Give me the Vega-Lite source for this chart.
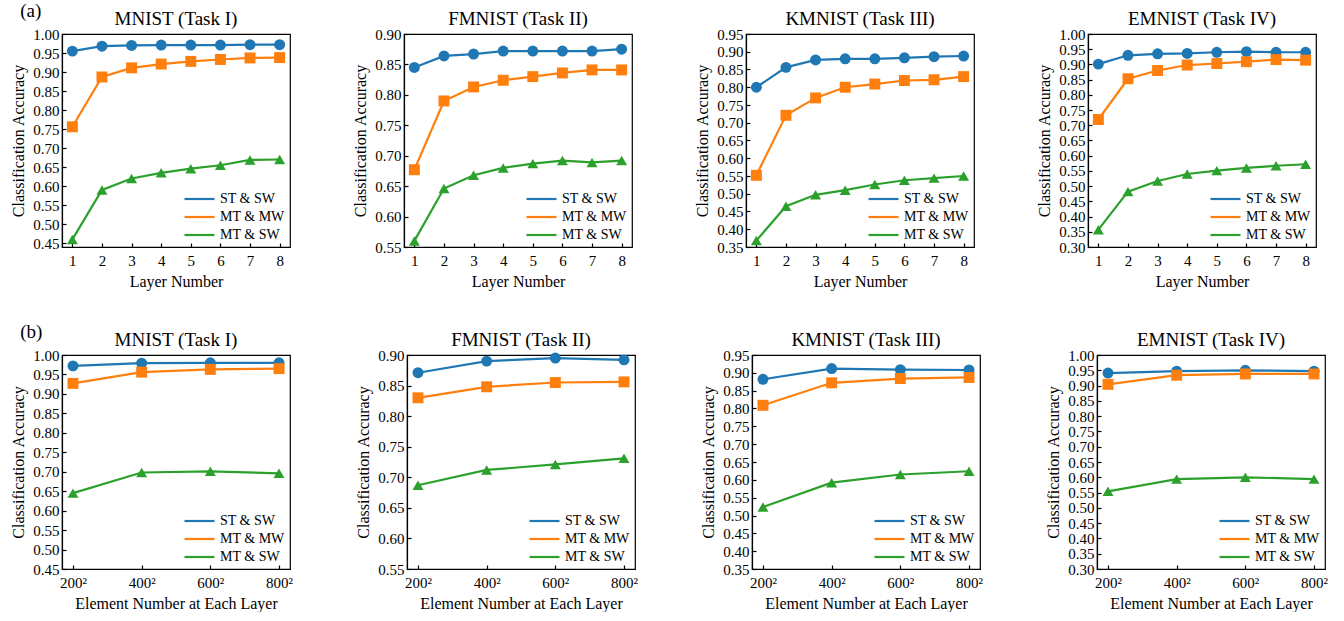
{
  "$schema": "https://vega.github.io/schema/vega-lite/v6.json",
  "padding": {"left": 10, "top": 2, "right": 0, "bottom": 0},
  "config": {
    "font": "Liberation Serif",
    "view": {"stroke": "black", "strokeWidth": 1.2},
    "axis": {
      "domainColor": "black", "domainWidth": 1.2, "tickColor": "black", "tickWidth": 1.2,
      "labelColor": "black", "titleColor": "black",
      "labelFont": "Liberation Serif", "titleFont": "Liberation Serif",
      "labelFontSize": 15, "titleFontSize": 16, "titleFontWeight": "normal",
      "grid": false, "tickSize": -4, "labelPadding": 7, "labelFlush": false, "labelOverlap": false
    },
    "axisX": {"titlePadding": 5, "labelPadding": 10},
    "axisY": {"titlePadding": 6},
    "title": {"font": "Liberation Serif", "fontSize": 19, "fontWeight": "normal", "color": "black", "offset": -2},
    "legend": {
      "orient": "bottom-right", "offset": 5, "padding": 0,
      "labelFont": "Liberation Serif", "labelFontSize": 14, "labelColor": "black",
      "symbolType": "M-1,0H3", "symbolSize": 225, "symbolStrokeWidth": 2.2, "labelOffset": 19, "rowPadding": 2
    }
  },
  "datasets": {
    "acc": [
      {"group": "layer", "task": "MNIST", "method": "ST & SW", "x": 1, "accuracy": 0.955},
      {"group": "layer", "task": "MNIST", "method": "ST & SW", "x": 2, "accuracy": 0.968},
      {"group": "layer", "task": "MNIST", "method": "ST & SW", "x": 3, "accuracy": 0.970},
      {"group": "layer", "task": "MNIST", "method": "ST & SW", "x": 4, "accuracy": 0.971},
      {"group": "layer", "task": "MNIST", "method": "ST & SW", "x": 5, "accuracy": 0.971},
      {"group": "layer", "task": "MNIST", "method": "ST & SW", "x": 6, "accuracy": 0.971},
      {"group": "layer", "task": "MNIST", "method": "ST & SW", "x": 7, "accuracy": 0.972},
      {"group": "layer", "task": "MNIST", "method": "ST & SW", "x": 8, "accuracy": 0.972},
      {"group": "layer", "task": "MNIST", "method": "MT & MW", "x": 1, "accuracy": 0.756},
      {"group": "layer", "task": "MNIST", "method": "MT & MW", "x": 2, "accuracy": 0.887},
      {"group": "layer", "task": "MNIST", "method": "MT & MW", "x": 3, "accuracy": 0.911},
      {"group": "layer", "task": "MNIST", "method": "MT & MW", "x": 4, "accuracy": 0.921},
      {"group": "layer", "task": "MNIST", "method": "MT & MW", "x": 5, "accuracy": 0.928},
      {"group": "layer", "task": "MNIST", "method": "MT & MW", "x": 6, "accuracy": 0.933},
      {"group": "layer", "task": "MNIST", "method": "MT & MW", "x": 7, "accuracy": 0.937},
      {"group": "layer", "task": "MNIST", "method": "MT & MW", "x": 8, "accuracy": 0.938},
      {"group": "layer", "task": "MNIST", "method": "MT & SW", "x": 1, "accuracy": 0.460},
      {"group": "layer", "task": "MNIST", "method": "MT & SW", "x": 2, "accuracy": 0.590},
      {"group": "layer", "task": "MNIST", "method": "MT & SW", "x": 3, "accuracy": 0.620},
      {"group": "layer", "task": "MNIST", "method": "MT & SW", "x": 4, "accuracy": 0.635},
      {"group": "layer", "task": "MNIST", "method": "MT & SW", "x": 5, "accuracy": 0.646},
      {"group": "layer", "task": "MNIST", "method": "MT & SW", "x": 6, "accuracy": 0.655},
      {"group": "layer", "task": "MNIST", "method": "MT & SW", "x": 7, "accuracy": 0.669},
      {"group": "layer", "task": "MNIST", "method": "MT & SW", "x": 8, "accuracy": 0.670},

      {"group": "layer", "task": "FMNIST", "method": "ST & SW", "x": 1, "accuracy": 0.845},
      {"group": "layer", "task": "FMNIST", "method": "ST & SW", "x": 2, "accuracy": 0.864},
      {"group": "layer", "task": "FMNIST", "method": "ST & SW", "x": 3, "accuracy": 0.867},
      {"group": "layer", "task": "FMNIST", "method": "ST & SW", "x": 4, "accuracy": 0.872},
      {"group": "layer", "task": "FMNIST", "method": "ST & SW", "x": 5, "accuracy": 0.872},
      {"group": "layer", "task": "FMNIST", "method": "ST & SW", "x": 6, "accuracy": 0.872},
      {"group": "layer", "task": "FMNIST", "method": "ST & SW", "x": 7, "accuracy": 0.872},
      {"group": "layer", "task": "FMNIST", "method": "ST & SW", "x": 8, "accuracy": 0.875},
      {"group": "layer", "task": "FMNIST", "method": "MT & MW", "x": 1, "accuracy": 0.677},
      {"group": "layer", "task": "FMNIST", "method": "MT & MW", "x": 2, "accuracy": 0.790},
      {"group": "layer", "task": "FMNIST", "method": "MT & MW", "x": 3, "accuracy": 0.813},
      {"group": "layer", "task": "FMNIST", "method": "MT & MW", "x": 4, "accuracy": 0.824},
      {"group": "layer", "task": "FMNIST", "method": "MT & MW", "x": 5, "accuracy": 0.830},
      {"group": "layer", "task": "FMNIST", "method": "MT & MW", "x": 6, "accuracy": 0.836},
      {"group": "layer", "task": "FMNIST", "method": "MT & MW", "x": 7, "accuracy": 0.841},
      {"group": "layer", "task": "FMNIST", "method": "MT & MW", "x": 8, "accuracy": 0.841},
      {"group": "layer", "task": "FMNIST", "method": "MT & SW", "x": 1, "accuracy": 0.560},
      {"group": "layer", "task": "FMNIST", "method": "MT & SW", "x": 2, "accuracy": 0.646},
      {"group": "layer", "task": "FMNIST", "method": "MT & SW", "x": 3, "accuracy": 0.668},
      {"group": "layer", "task": "FMNIST", "method": "MT & SW", "x": 4, "accuracy": 0.680},
      {"group": "layer", "task": "FMNIST", "method": "MT & SW", "x": 5, "accuracy": 0.687},
      {"group": "layer", "task": "FMNIST", "method": "MT & SW", "x": 6, "accuracy": 0.692},
      {"group": "layer", "task": "FMNIST", "method": "MT & SW", "x": 7, "accuracy": 0.689},
      {"group": "layer", "task": "FMNIST", "method": "MT & SW", "x": 8, "accuracy": 0.692},

      {"group": "layer", "task": "KMNIST", "method": "ST & SW", "x": 1, "accuracy": 0.800},
      {"group": "layer", "task": "KMNIST", "method": "ST & SW", "x": 2, "accuracy": 0.856},
      {"group": "layer", "task": "KMNIST", "method": "ST & SW", "x": 3, "accuracy": 0.877},
      {"group": "layer", "task": "KMNIST", "method": "ST & SW", "x": 4, "accuracy": 0.880},
      {"group": "layer", "task": "KMNIST", "method": "ST & SW", "x": 5, "accuracy": 0.880},
      {"group": "layer", "task": "KMNIST", "method": "ST & SW", "x": 6, "accuracy": 0.883},
      {"group": "layer", "task": "KMNIST", "method": "ST & SW", "x": 7, "accuracy": 0.886},
      {"group": "layer", "task": "KMNIST", "method": "ST & SW", "x": 8, "accuracy": 0.888},
      {"group": "layer", "task": "KMNIST", "method": "MT & MW", "x": 1, "accuracy": 0.552},
      {"group": "layer", "task": "KMNIST", "method": "MT & MW", "x": 2, "accuracy": 0.721},
      {"group": "layer", "task": "KMNIST", "method": "MT & MW", "x": 3, "accuracy": 0.770},
      {"group": "layer", "task": "KMNIST", "method": "MT & MW", "x": 4, "accuracy": 0.800},
      {"group": "layer", "task": "KMNIST", "method": "MT & MW", "x": 5, "accuracy": 0.809},
      {"group": "layer", "task": "KMNIST", "method": "MT & MW", "x": 6, "accuracy": 0.819},
      {"group": "layer", "task": "KMNIST", "method": "MT & MW", "x": 7, "accuracy": 0.821},
      {"group": "layer", "task": "KMNIST", "method": "MT & MW", "x": 8, "accuracy": 0.830},
      {"group": "layer", "task": "KMNIST", "method": "MT & SW", "x": 1, "accuracy": 0.368},
      {"group": "layer", "task": "KMNIST", "method": "MT & SW", "x": 2, "accuracy": 0.465},
      {"group": "layer", "task": "KMNIST", "method": "MT & SW", "x": 3, "accuracy": 0.497},
      {"group": "layer", "task": "KMNIST", "method": "MT & SW", "x": 4, "accuracy": 0.510},
      {"group": "layer", "task": "KMNIST", "method": "MT & SW", "x": 5, "accuracy": 0.526},
      {"group": "layer", "task": "KMNIST", "method": "MT & SW", "x": 6, "accuracy": 0.538},
      {"group": "layer", "task": "KMNIST", "method": "MT & SW", "x": 7, "accuracy": 0.544},
      {"group": "layer", "task": "KMNIST", "method": "MT & SW", "x": 8, "accuracy": 0.550},

      {"group": "layer", "task": "EMNIST", "method": "ST & SW", "x": 1, "accuracy": 0.901},
      {"group": "layer", "task": "EMNIST", "method": "ST & SW", "x": 2, "accuracy": 0.930},
      {"group": "layer", "task": "EMNIST", "method": "ST & SW", "x": 3, "accuracy": 0.935},
      {"group": "layer", "task": "EMNIST", "method": "ST & SW", "x": 4, "accuracy": 0.936},
      {"group": "layer", "task": "EMNIST", "method": "ST & SW", "x": 5, "accuracy": 0.940},
      {"group": "layer", "task": "EMNIST", "method": "ST & SW", "x": 6, "accuracy": 0.942},
      {"group": "layer", "task": "EMNIST", "method": "ST & SW", "x": 7, "accuracy": 0.940},
      {"group": "layer", "task": "EMNIST", "method": "ST & SW", "x": 8, "accuracy": 0.940},
      {"group": "layer", "task": "EMNIST", "method": "MT & MW", "x": 1, "accuracy": 0.719},
      {"group": "layer", "task": "EMNIST", "method": "MT & MW", "x": 2, "accuracy": 0.853},
      {"group": "layer", "task": "EMNIST", "method": "MT & MW", "x": 3, "accuracy": 0.880},
      {"group": "layer", "task": "EMNIST", "method": "MT & MW", "x": 4, "accuracy": 0.898},
      {"group": "layer", "task": "EMNIST", "method": "MT & MW", "x": 5, "accuracy": 0.903},
      {"group": "layer", "task": "EMNIST", "method": "MT & MW", "x": 6, "accuracy": 0.909},
      {"group": "layer", "task": "EMNIST", "method": "MT & MW", "x": 7, "accuracy": 0.916},
      {"group": "layer", "task": "EMNIST", "method": "MT & MW", "x": 8, "accuracy": 0.914},
      {"group": "layer", "task": "EMNIST", "method": "MT & SW", "x": 1, "accuracy": 0.357},
      {"group": "layer", "task": "EMNIST", "method": "MT & SW", "x": 2, "accuracy": 0.482},
      {"group": "layer", "task": "EMNIST", "method": "MT & SW", "x": 3, "accuracy": 0.517},
      {"group": "layer", "task": "EMNIST", "method": "MT & SW", "x": 4, "accuracy": 0.540},
      {"group": "layer", "task": "EMNIST", "method": "MT & SW", "x": 5, "accuracy": 0.551},
      {"group": "layer", "task": "EMNIST", "method": "MT & SW", "x": 6, "accuracy": 0.560},
      {"group": "layer", "task": "EMNIST", "method": "MT & SW", "x": 7, "accuracy": 0.567},
      {"group": "layer", "task": "EMNIST", "method": "MT & SW", "x": 8, "accuracy": 0.572},

      {"group": "element", "task": "MNIST", "method": "ST & SW", "x": 200, "accuracy": 0.972},
      {"group": "element", "task": "MNIST", "method": "ST & SW", "x": 400, "accuracy": 0.979},
      {"group": "element", "task": "MNIST", "method": "ST & SW", "x": 600, "accuracy": 0.980},
      {"group": "element", "task": "MNIST", "method": "ST & SW", "x": 800, "accuracy": 0.980},
      {"group": "element", "task": "MNIST", "method": "MT & MW", "x": 200, "accuracy": 0.927},
      {"group": "element", "task": "MNIST", "method": "MT & MW", "x": 400, "accuracy": 0.956},
      {"group": "element", "task": "MNIST", "method": "MT & MW", "x": 600, "accuracy": 0.963},
      {"group": "element", "task": "MNIST", "method": "MT & MW", "x": 800, "accuracy": 0.965},
      {"group": "element", "task": "MNIST", "method": "MT & SW", "x": 200, "accuracy": 0.645},
      {"group": "element", "task": "MNIST", "method": "MT & SW", "x": 400, "accuracy": 0.698},
      {"group": "element", "task": "MNIST", "method": "MT & SW", "x": 600, "accuracy": 0.701},
      {"group": "element", "task": "MNIST", "method": "MT & SW", "x": 800, "accuracy": 0.696},

      {"group": "element", "task": "FMNIST", "method": "ST & SW", "x": 200, "accuracy": 0.871},
      {"group": "element", "task": "FMNIST", "method": "ST & SW", "x": 400, "accuracy": 0.890},
      {"group": "element", "task": "FMNIST", "method": "ST & SW", "x": 600, "accuracy": 0.895},
      {"group": "element", "task": "FMNIST", "method": "ST & SW", "x": 800, "accuracy": 0.892},
      {"group": "element", "task": "FMNIST", "method": "MT & MW", "x": 200, "accuracy": 0.830},
      {"group": "element", "task": "FMNIST", "method": "MT & MW", "x": 400, "accuracy": 0.848},
      {"group": "element", "task": "FMNIST", "method": "MT & MW", "x": 600, "accuracy": 0.855},
      {"group": "element", "task": "FMNIST", "method": "MT & MW", "x": 800, "accuracy": 0.856},
      {"group": "element", "task": "FMNIST", "method": "MT & SW", "x": 200, "accuracy": 0.687},
      {"group": "element", "task": "FMNIST", "method": "MT & SW", "x": 400, "accuracy": 0.712},
      {"group": "element", "task": "FMNIST", "method": "MT & SW", "x": 600, "accuracy": 0.721},
      {"group": "element", "task": "FMNIST", "method": "MT & SW", "x": 800, "accuracy": 0.731},

      {"group": "element", "task": "KMNIST", "method": "ST & SW", "x": 200, "accuracy": 0.882},
      {"group": "element", "task": "KMNIST", "method": "ST & SW", "x": 400, "accuracy": 0.912},
      {"group": "element", "task": "KMNIST", "method": "ST & SW", "x": 600, "accuracy": 0.909},
      {"group": "element", "task": "KMNIST", "method": "ST & SW", "x": 800, "accuracy": 0.908},
      {"group": "element", "task": "KMNIST", "method": "MT & MW", "x": 200, "accuracy": 0.809},
      {"group": "element", "task": "KMNIST", "method": "MT & MW", "x": 400, "accuracy": 0.872},
      {"group": "element", "task": "KMNIST", "method": "MT & MW", "x": 600, "accuracy": 0.884},
      {"group": "element", "task": "KMNIST", "method": "MT & MW", "x": 800, "accuracy": 0.887},
      {"group": "element", "task": "KMNIST", "method": "MT & SW", "x": 200, "accuracy": 0.524},
      {"group": "element", "task": "KMNIST", "method": "MT & SW", "x": 400, "accuracy": 0.592},
      {"group": "element", "task": "KMNIST", "method": "MT & SW", "x": 600, "accuracy": 0.615},
      {"group": "element", "task": "KMNIST", "method": "MT & SW", "x": 800, "accuracy": 0.624},

      {"group": "element", "task": "EMNIST", "method": "ST & SW", "x": 200, "accuracy": 0.941},
      {"group": "element", "task": "EMNIST", "method": "ST & SW", "x": 400, "accuracy": 0.947},
      {"group": "element", "task": "EMNIST", "method": "ST & SW", "x": 600, "accuracy": 0.950},
      {"group": "element", "task": "EMNIST", "method": "ST & SW", "x": 800, "accuracy": 0.947},
      {"group": "element", "task": "EMNIST", "method": "MT & MW", "x": 200, "accuracy": 0.904},
      {"group": "element", "task": "EMNIST", "method": "MT & MW", "x": 400, "accuracy": 0.934},
      {"group": "element", "task": "EMNIST", "method": "MT & MW", "x": 600, "accuracy": 0.938},
      {"group": "element", "task": "EMNIST", "method": "MT & MW", "x": 800, "accuracy": 0.938},
      {"group": "element", "task": "EMNIST", "method": "MT & SW", "x": 200, "accuracy": 0.554},
      {"group": "element", "task": "EMNIST", "method": "MT & SW", "x": 400, "accuracy": 0.594},
      {"group": "element", "task": "EMNIST", "method": "MT & SW", "x": 600, "accuracy": 0.600},
      {"group": "element", "task": "EMNIST", "method": "MT & SW", "x": 800, "accuracy": 0.594}
    ]
  },
  "data": {"name": "acc"},
  "spacing": 33,
  "resolve": {"scale": {"color": "independent"}, "legend": {"color": "independent"}},
  "vconcat": [
    {
      "title": {"text": "(a)", "anchor": "start", "frame": "bounds", "fontSize": 19, "offset": -12, "dx": 10},
      "spacing": 61,
      "resolve": {"scale": {"color": "independent"}, "legend": {"color": "independent"}},
      "hconcat": [
        {
          "title": "MNIST (Task I)", "width": 228, "height": 213,
          "transform": [{"filter": "datum.group === 'layer' && datum.task === 'MNIST'"}],
          "encoding": {
            "x": {"field": "x", "type": "quantitative", "scale": {"domain": [0.65, 8.35], "nice": false, "zero": false}, "axis": {"values": [1, 2, 3, 4, 5, 6, 7, 8], "title": "Layer Number"}},
            "y": {"field": "accuracy", "type": "quantitative", "scale": {"domain": [0.44, 1.0], "nice": false, "zero": false}, "axis": {"values": [0.45, 0.5, 0.55, 0.6, 0.65, 0.7, 0.75, 0.8, 0.85, 0.9, 0.95, 1.0], "format": ".2f", "title": "Classification Accuracy"}}
          },
          "layer": [
            {"mark": {"type": "line", "strokeWidth": 2.2}, "encoding": {"color": {"field": "method", "type": "nominal", "title": null, "scale": {"domain": ["ST & SW", "MT & MW", "MT & SW"], "range": ["#1f77b4", "#ff7f0e", "#2ca02c"]}}}},
            {"mark": {"type": "point", "filled": true, "size": 120, "opacity": 1, "strokeWidth": 0}, "encoding": {"fill": {"field": "method", "type": "nominal", "scale": {"domain": ["ST & SW", "MT & MW", "MT & SW"], "range": ["#1f77b4", "#ff7f0e", "#2ca02c"]}, "legend": null}, "shape": {"field": "method", "type": "nominal", "scale": {"domain": ["ST & SW", "MT & MW", "MT & SW"], "range": ["circle", "square", "triangle-up"]}, "legend": null}}}
          ]
        },
        {
          "title": "FMNIST (Task II)", "width": 228, "height": 213,
          "transform": [{"filter": "datum.group === 'layer' && datum.task === 'FMNIST'"}],
          "encoding": {
            "x": {"field": "x", "type": "quantitative", "scale": {"domain": [0.65, 8.35], "nice": false, "zero": false}, "axis": {"values": [1, 2, 3, 4, 5, 6, 7, 8], "title": "Layer Number"}},
            "y": {"field": "accuracy", "type": "quantitative", "scale": {"domain": [0.55, 0.9], "nice": false, "zero": false}, "axis": {"values": [0.55, 0.6, 0.65, 0.7, 0.75, 0.8, 0.85, 0.9], "format": ".2f", "title": "Classification Accuracy"}}
          },
          "layer": [
            {"mark": {"type": "line", "strokeWidth": 2.2}, "encoding": {"color": {"field": "method", "type": "nominal", "title": null, "scale": {"domain": ["ST & SW", "MT & MW", "MT & SW"], "range": ["#1f77b4", "#ff7f0e", "#2ca02c"]}}}},
            {"mark": {"type": "point", "filled": true, "size": 120, "opacity": 1, "strokeWidth": 0}, "encoding": {"fill": {"field": "method", "type": "nominal", "scale": {"domain": ["ST & SW", "MT & MW", "MT & SW"], "range": ["#1f77b4", "#ff7f0e", "#2ca02c"]}, "legend": null}, "shape": {"field": "method", "type": "nominal", "scale": {"domain": ["ST & SW", "MT & MW", "MT & SW"], "range": ["circle", "square", "triangle-up"]}, "legend": null}}}
          ]
        },
        {
          "title": "KMNIST (Task III)", "width": 228, "height": 213,
          "transform": [{"filter": "datum.group === 'layer' && datum.task === 'KMNIST'"}],
          "encoding": {
            "x": {"field": "x", "type": "quantitative", "scale": {"domain": [0.65, 8.35], "nice": false, "zero": false}, "axis": {"values": [1, 2, 3, 4, 5, 6, 7, 8], "title": "Layer Number"}},
            "y": {"field": "accuracy", "type": "quantitative", "scale": {"domain": [0.35, 0.95], "nice": false, "zero": false}, "axis": {"values": [0.35, 0.4, 0.45, 0.5, 0.55, 0.6, 0.65, 0.7, 0.75, 0.8, 0.85, 0.9, 0.95], "format": ".2f", "title": "Classification Accuracy"}}
          },
          "layer": [
            {"mark": {"type": "line", "strokeWidth": 2.2}, "encoding": {"color": {"field": "method", "type": "nominal", "title": null, "scale": {"domain": ["ST & SW", "MT & MW", "MT & SW"], "range": ["#1f77b4", "#ff7f0e", "#2ca02c"]}}}},
            {"mark": {"type": "point", "filled": true, "size": 120, "opacity": 1, "strokeWidth": 0}, "encoding": {"fill": {"field": "method", "type": "nominal", "scale": {"domain": ["ST & SW", "MT & MW", "MT & SW"], "range": ["#1f77b4", "#ff7f0e", "#2ca02c"]}, "legend": null}, "shape": {"field": "method", "type": "nominal", "scale": {"domain": ["ST & SW", "MT & MW", "MT & SW"], "range": ["circle", "square", "triangle-up"]}, "legend": null}}}
          ]
        },
        {
          "title": "EMNIST (Task IV)", "width": 228, "height": 213,
          "transform": [{"filter": "datum.group === 'layer' && datum.task === 'EMNIST'"}],
          "encoding": {
            "x": {"field": "x", "type": "quantitative", "scale": {"domain": [0.65, 8.35], "nice": false, "zero": false}, "axis": {"values": [1, 2, 3, 4, 5, 6, 7, 8], "title": "Layer Number"}},
            "y": {"field": "accuracy", "type": "quantitative", "scale": {"domain": [0.3, 1.0], "nice": false, "zero": false}, "axis": {"values": [0.3, 0.35, 0.4, 0.45, 0.5, 0.55, 0.6, 0.65, 0.7, 0.75, 0.8, 0.85, 0.9, 0.95, 1.0], "format": ".2f", "title": "Classification Accuracy"}}
          },
          "layer": [
            {"mark": {"type": "line", "strokeWidth": 2.2}, "encoding": {"color": {"field": "method", "type": "nominal", "title": null, "scale": {"domain": ["ST & SW", "MT & MW", "MT & SW"], "range": ["#1f77b4", "#ff7f0e", "#2ca02c"]}}}},
            {"mark": {"type": "point", "filled": true, "size": 120, "opacity": 1, "strokeWidth": 0}, "encoding": {"fill": {"field": "method", "type": "nominal", "scale": {"domain": ["ST & SW", "MT & MW", "MT & SW"], "range": ["#1f77b4", "#ff7f0e", "#2ca02c"]}, "legend": null}, "shape": {"field": "method", "type": "nominal", "scale": {"domain": ["ST & SW", "MT & MW", "MT & SW"], "range": ["circle", "square", "triangle-up"]}, "legend": null}}}
          ]
        }
      ]
    },
    {
      "title": {"text": "(b)", "anchor": "start", "frame": "bounds", "fontSize": 19, "offset": -12, "dx": 10},
      "spacing": 61,
      "resolve": {"scale": {"color": "independent"}, "legend": {"color": "independent"}},
      "hconcat": [
        {
          "title": "MNIST (Task I)", "width": 228, "height": 214,
          "transform": [{"filter": "datum.group === 'element' && datum.task === 'MNIST'"}],
          "encoding": {
            "x": {"field": "x", "type": "quantitative", "scale": {"domain": [168, 832], "nice": false, "zero": false}, "axis": {"values": [200, 400, 600, 800], "labelExpr": "datum.value + '²'", "title": "Element Number at Each Layer"}},
            "y": {"field": "accuracy", "type": "quantitative", "scale": {"domain": [0.45, 1.0], "nice": false, "zero": false}, "axis": {"values": [0.45, 0.5, 0.55, 0.6, 0.65, 0.7, 0.75, 0.8, 0.85, 0.9, 0.95, 1.0], "format": ".2f", "title": "Classification Accuracy"}}
          },
          "layer": [
            {"mark": {"type": "line", "strokeWidth": 2.2}, "encoding": {"color": {"field": "method", "type": "nominal", "title": null, "scale": {"domain": ["ST & SW", "MT & MW", "MT & SW"], "range": ["#1f77b4", "#ff7f0e", "#2ca02c"]}}}},
            {"mark": {"type": "point", "filled": true, "size": 120, "opacity": 1, "strokeWidth": 0}, "encoding": {"fill": {"field": "method", "type": "nominal", "scale": {"domain": ["ST & SW", "MT & MW", "MT & SW"], "range": ["#1f77b4", "#ff7f0e", "#2ca02c"]}, "legend": null}, "shape": {"field": "method", "type": "nominal", "scale": {"domain": ["ST & SW", "MT & MW", "MT & SW"], "range": ["circle", "square", "triangle-up"]}, "legend": null}}}
          ]
        },
        {
          "title": "FMNIST (Task II)", "width": 228, "height": 214,
          "transform": [{"filter": "datum.group === 'element' && datum.task === 'FMNIST'"}],
          "encoding": {
            "x": {"field": "x", "type": "quantitative", "scale": {"domain": [168, 832], "nice": false, "zero": false}, "axis": {"values": [200, 400, 600, 800], "labelExpr": "datum.value + '²'", "title": "Element Number at Each Layer"}},
            "y": {"field": "accuracy", "type": "quantitative", "scale": {"domain": [0.55, 0.9], "nice": false, "zero": false}, "axis": {"values": [0.55, 0.6, 0.65, 0.7, 0.75, 0.8, 0.85, 0.9], "format": ".2f", "title": "Classification Accuracy"}}
          },
          "layer": [
            {"mark": {"type": "line", "strokeWidth": 2.2}, "encoding": {"color": {"field": "method", "type": "nominal", "title": null, "scale": {"domain": ["ST & SW", "MT & MW", "MT & SW"], "range": ["#1f77b4", "#ff7f0e", "#2ca02c"]}}}},
            {"mark": {"type": "point", "filled": true, "size": 120, "opacity": 1, "strokeWidth": 0}, "encoding": {"fill": {"field": "method", "type": "nominal", "scale": {"domain": ["ST & SW", "MT & MW", "MT & SW"], "range": ["#1f77b4", "#ff7f0e", "#2ca02c"]}, "legend": null}, "shape": {"field": "method", "type": "nominal", "scale": {"domain": ["ST & SW", "MT & MW", "MT & SW"], "range": ["circle", "square", "triangle-up"]}, "legend": null}}}
          ]
        },
        {
          "title": "KMNIST (Task III)", "width": 228, "height": 214,
          "transform": [{"filter": "datum.group === 'element' && datum.task === 'KMNIST'"}],
          "encoding": {
            "x": {"field": "x", "type": "quantitative", "scale": {"domain": [168, 832], "nice": false, "zero": false}, "axis": {"values": [200, 400, 600, 800], "labelExpr": "datum.value + '²'", "title": "Element Number at Each Layer"}},
            "y": {"field": "accuracy", "type": "quantitative", "scale": {"domain": [0.35, 0.95], "nice": false, "zero": false}, "axis": {"values": [0.35, 0.4, 0.45, 0.5, 0.55, 0.6, 0.65, 0.7, 0.75, 0.8, 0.85, 0.9, 0.95], "format": ".2f", "title": "Classification Accuracy"}}
          },
          "layer": [
            {"mark": {"type": "line", "strokeWidth": 2.2}, "encoding": {"color": {"field": "method", "type": "nominal", "title": null, "scale": {"domain": ["ST & SW", "MT & MW", "MT & SW"], "range": ["#1f77b4", "#ff7f0e", "#2ca02c"]}}}},
            {"mark": {"type": "point", "filled": true, "size": 120, "opacity": 1, "strokeWidth": 0}, "encoding": {"fill": {"field": "method", "type": "nominal", "scale": {"domain": ["ST & SW", "MT & MW", "MT & SW"], "range": ["#1f77b4", "#ff7f0e", "#2ca02c"]}, "legend": null}, "shape": {"field": "method", "type": "nominal", "scale": {"domain": ["ST & SW", "MT & MW", "MT & SW"], "range": ["circle", "square", "triangle-up"]}, "legend": null}}}
          ]
        },
        {
          "title": "EMNIST (Task IV)", "width": 228, "height": 214,
          "transform": [{"filter": "datum.group === 'element' && datum.task === 'EMNIST'"}],
          "encoding": {
            "x": {"field": "x", "type": "quantitative", "scale": {"domain": [168, 832], "nice": false, "zero": false}, "axis": {"values": [200, 400, 600, 800], "labelExpr": "datum.value + '²'", "title": "Element Number at Each Layer"}},
            "y": {"field": "accuracy", "type": "quantitative", "scale": {"domain": [0.3, 1.0], "nice": false, "zero": false}, "axis": {"values": [0.3, 0.35, 0.4, 0.45, 0.5, 0.55, 0.6, 0.65, 0.7, 0.75, 0.8, 0.85, 0.9, 0.95, 1.0], "format": ".2f", "title": "Classification Accuracy"}}
          },
          "layer": [
            {"mark": {"type": "line", "strokeWidth": 2.2}, "encoding": {"color": {"field": "method", "type": "nominal", "title": null, "scale": {"domain": ["ST & SW", "MT & MW", "MT & SW"], "range": ["#1f77b4", "#ff7f0e", "#2ca02c"]}}}},
            {"mark": {"type": "point", "filled": true, "size": 120, "opacity": 1, "strokeWidth": 0}, "encoding": {"fill": {"field": "method", "type": "nominal", "scale": {"domain": ["ST & SW", "MT & MW", "MT & SW"], "range": ["#1f77b4", "#ff7f0e", "#2ca02c"]}, "legend": null}, "shape": {"field": "method", "type": "nominal", "scale": {"domain": ["ST & SW", "MT & MW", "MT & SW"], "range": ["circle", "square", "triangle-up"]}, "legend": null}}}
          ]
        }
      ]
    }
  ]
}
